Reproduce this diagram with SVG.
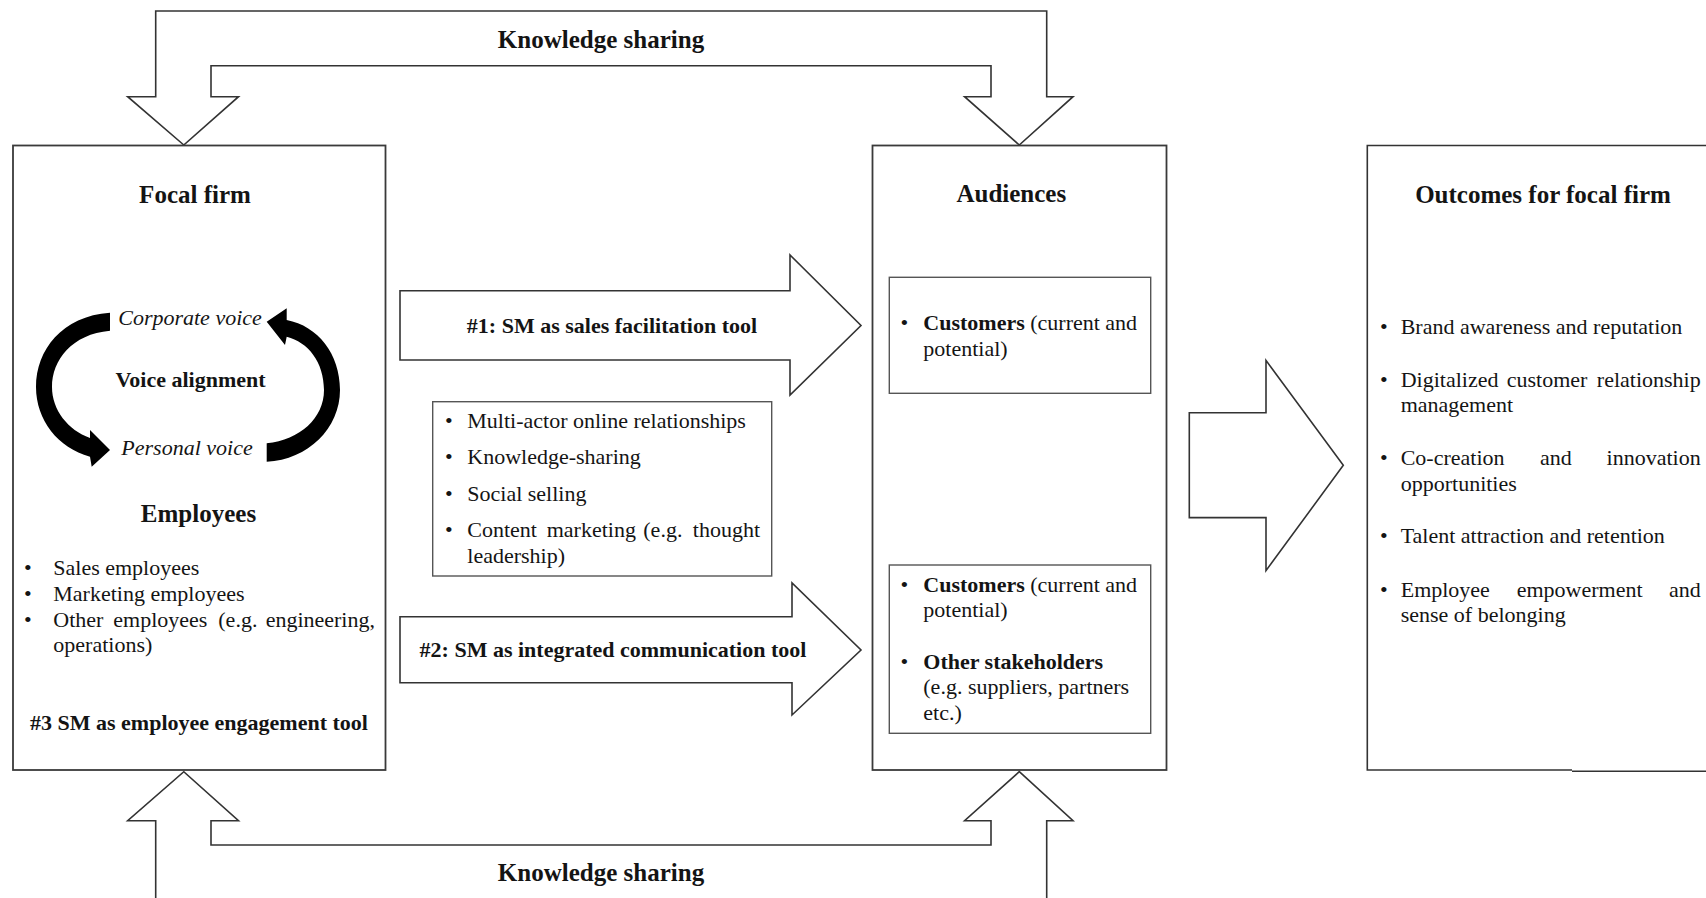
<svg xmlns="http://www.w3.org/2000/svg" width="1706" height="898" viewBox="0 0 1706 898">
<style>
  text { font-family: "Liberation Serif", "Times New Roman", serif; fill: #141414; }
  .h { font-size: 25px; font-weight: bold; }
  .b { font-size: 22px; }
  .bb { font-size: 22px; font-weight: bold; }
  .it { font-size: 22px; font-style: italic; }
  .box { fill: #fff; stroke: #3a3a3a; stroke-width: 1.8; }
  .ibox { fill: none; stroke: #555; stroke-width: 1.4; }
  .arr { fill: #fff; stroke: #333; stroke-width: 1.6; stroke-linejoin: miter; }
  .line { fill: none; stroke: #333; stroke-width: 1.6; }
  .mid { text-anchor: middle; }
  .end { text-anchor: end; }
  .cyc { fill: #000; stroke: none; }
</style>
<rect x="0" y="0" width="1706" height="898" fill="#fff"/>

<g id="connectors">
  <g id="ks-top">
    <path class="arr" d="M183.8,145 L127.7,96.7 H155.7 V11 H1046.7 V96.7 H1073 L1019.3,145 L964.6,96.7 H991 V65.7 H211 V96.7 H238.5 Z"/>
    <text class="h mid" x="601" y="48">Knowledge sharing</text>
  </g>
  <g id="ks-bottom">
    <path class="arr" d="M155.7,900 V820.7 H127.7 L183.8,771.7 L238.5,820.7 H211 V845 H991 V820.7 H964.6 L1019.3,771.7 L1073,820.7 H1046.7 V900"/>
    <text class="h mid" x="601" y="881">Knowledge sharing</text>
  </g>
  <g id="arrow-1">
    <path class="arr" d="M400,290.7 H790 V255 L861,325.5 L790,395 V360 H400 Z"/>
    <text class="bb mid" x="612" y="333">#1: SM as sales facilitation tool</text>
  </g>
  <g id="arrow-2">
    <path class="arr" d="M400,616.7 H792 V583 L861,650 L792,715 V682.7 H400 Z"/>
    <text class="bb mid" x="613" y="657">#2: SM as integrated communication tool</text>
  </g>
  <g id="arrow-outcomes">
    <path class="arr" d="M1189.3,412.7 H1266 V360.4 L1343.3,465.3 L1266,570.6 V517.6 H1189.3 Z"/>
  </g>
</g>

<g id="focal-firm">
  <rect class="box" x="13" y="145.5" width="372.5" height="624.5"/>
  <text class="h mid" x="195" y="203">Focal firm</text>
  <g id="voice-cycle">
    <path class="cyc" d="M110,312.7 C62,316 36,350 36,387 C36,420 58,448 90,456.7 L91.7,466.7 L110,450 L90,430 L90,438 C68,430 52,410 52,387 C52,360 72,334 110,330.7 Z"/>
    <path class="cyc" d="M266.7,443.3 C300,440 324,418 324,390 C324,362 308,342 286.7,336.7 L285,345 L266.7,321.7 L286.7,308.3 L286.7,320 C318,326 340,354 340,390 C340,428 308,460 266.7,461.7 Z"/>
    <text class="it mid" x="190" y="325">Corporate voice</text>
    <text class="bb mid" x="190.5" y="386.7">Voice alignment</text>
    <text class="it mid" x="187" y="455">Personal voice</text>
  </g>
  <text class="h mid" x="198.5" y="521.6">Employees</text>
  <text class="b" x="24" y="575">•</text><text class="b" x="53.3" y="575">Sales employees</text>
  <text class="b" x="24" y="601">•</text><text class="b" x="53.3" y="601">Marketing employees</text>
  <text class="b" x="24" y="627">•</text>
  <text class="b" x="53.3" y="627">Other</text>
  <text class="b" x="113.3" y="627">employees</text>
  <text class="b" x="218.3" y="627">(e.g.</text>
  <text class="b end" x="375" y="627">engineering,</text>
  <text class="b" x="53.3" y="652">operations)</text>
  <text class="bb mid" x="199" y="730">#3 SM as employee engagement tool</text>
</g>

<g id="practices">
  <rect class="ibox" x="432.7" y="401.7" width="339" height="174.3"/>
  <text class="b" x="445" y="428">•</text><text class="b" x="467.3" y="428">Multi-actor online relationships</text>
  <text class="b" x="445" y="464">•</text><text class="b" x="467.3" y="464">Knowledge-sharing</text>
  <text class="b" x="445" y="500.7">•</text><text class="b" x="467.3" y="500.7">Social selling</text>
  <text class="b" x="445" y="536.7">•</text>
  <text class="b" x="467.3" y="536.7">Content</text>
  <text class="b" x="546.7" y="536.7">marketing</text>
  <text class="b" x="643.3" y="536.7">(e.g.</text>
  <text class="b end" x="760" y="536.7">thought</text>
  <text class="b" x="467.3" y="563.3">leadership)</text>
</g>

<g id="audiences">
  <rect class="box" x="872.5" y="145.5" width="294" height="624.5"/>
  <text class="h mid" x="1011.3" y="202">Audiences</text>
  <g id="audience-customers">
    <rect class="ibox" x="889.3" y="277.3" width="261.4" height="116"/>
    <text class="b" x="900.5" y="330">•</text>
    <text class="b" x="923.3" y="330"><tspan font-weight="bold">Customers</tspan> (current and</text>
    <text class="b" x="923.3" y="356">potential)</text>
  </g>
  <g id="audience-stakeholders">
    <rect class="ibox" x="889.3" y="565" width="261.4" height="168.3"/>
    <text class="b" x="900.5" y="591.7">•</text>
    <text class="b" x="923.3" y="591.7"><tspan font-weight="bold">Customers</tspan> (current and</text>
    <text class="b" x="923.3" y="616.7">potential)</text>
    <text class="b" x="900.5" y="669">•</text>
    <text class="bb" x="923.3" y="669">Other stakeholders</text>
    <text class="b" x="923.3" y="694">(e.g. suppliers, partners</text>
    <text class="b" x="923.3" y="720">etc.)</text>
  </g>
</g>

<g id="outcomes">
  <path class="line" d="M1710,145.5 H1367.3 V770 H1572"/>
  <path class="line" d="M1572,771.3 H1710" stroke-width="2.2"/>
  <text class="h mid" x="1543" y="203">Outcomes for focal firm</text>
  <text class="b" x="1380" y="334">•</text><text class="b" x="1400.7" y="334">Brand awareness and reputation</text>
  <text class="b" x="1380" y="387.3">•</text>
  <text class="b" x="1400.7" y="387.3">Digitalized</text>
  <text class="b" x="1506.7" y="387.3">customer</text>
  <text class="b end" x="1700.7" y="387.3">relationship</text>
  <text class="b" x="1400.7" y="411.7">management</text>
  <text class="b" x="1380" y="465">•</text>
  <text class="b" x="1400.7" y="465">Co-creation</text>
  <text class="b" x="1540" y="465">and</text>
  <text class="b end" x="1700.7" y="465">innovation</text>
  <text class="b" x="1400.7" y="490.5">opportunities</text>
  <text class="b" x="1380" y="543.3">•</text><text class="b" x="1400.7" y="543.3">Talent attraction and retention</text>
  <text class="b" x="1380" y="596.7">•</text>
  <text class="b" x="1400.7" y="596.7">Employee</text>
  <text class="b" x="1516.7" y="596.7">empowerment</text>
  <text class="b end" x="1700.7" y="596.7">and</text>
  <text class="b" x="1400.7" y="621.7">sense of belonging</text>
</g>
</svg>
